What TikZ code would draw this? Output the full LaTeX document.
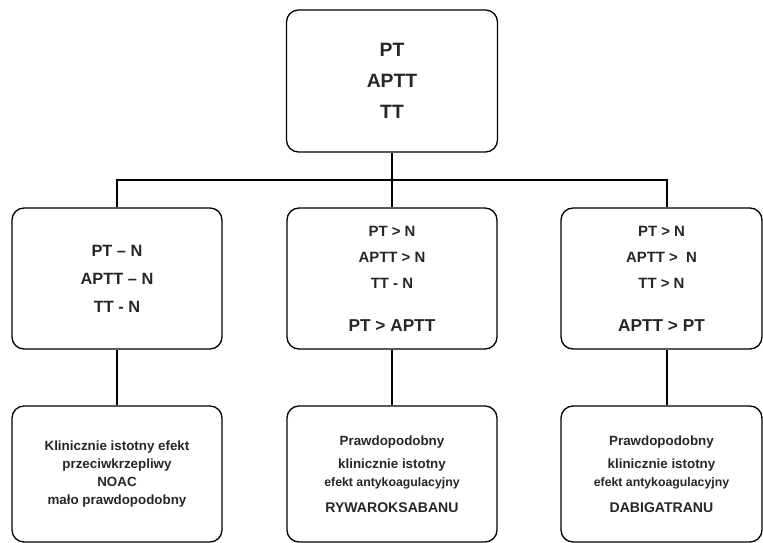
\documentclass[tikz,border=0pt]{standalone}
\usepackage{fontspec}
\setmainfont{Liberation Sans}
\usetikzlibrary{calc}

% kroje pisma dla poszczegolnych poziomow
\newcommand{\topfont}{\fontsize{11}{17.6}\selectfont\bfseries}
\newcommand{\midfont}{\fontsize{9.3}{15.9}\selectfont\bfseries}
\newcommand{\testfont}{\fontsize{8.5}{14.8}\selectfont\bfseries}
\newcommand{\botfont}{\fontsize{7.6}{10.2}\selectfont\bfseries}

\begin{document}
\begin{tikzpicture}[line width=0.75pt,
	box/.style={draw,rectangle,rounded corners=0.24cm,align=center,text=black!85}]

	\useasboundingbox (0,0) rectangle (15.26,10.86);

	% gorny blok
	\node[box, minimum width=4.22cm, minimum height=2.84cm, font=\topfont] (top) at (7.84,9.24) {PT\\APTT\\TT};

	% srodkowe bloki
	\node[box, minimum width=4.2cm, minimum height=2.82cm, font=\midfont] (lmid) at (2.34,5.29) {PT -- N\\APTT -- N\\TT - N};
	\node[box, minimum width=4.2cm, minimum height=2.82cm, font=\testfont] (mmid) at (7.84,5.29) {PT > N\\APTT > N\\TT - N\\[9.7pt]{\fontsize{9.8}{12}\selectfont PT > APTT}};
	\node[box, minimum width=4.02cm, minimum height=2.82cm, font=\testfont] (rmid) at (13.23,5.29) {PT > N\\APTT > \ N\\TT > N\\[9.7pt]{\fontsize{9.8}{12}\selectfont APTT > PT}};

	% dolne bloki
	\node[box, minimum width=4.2cm, minimum height=2.72cm, font=\botfont] (lbot) at (2.34,1.38) {Klinicznie istotny efekt\\przeciwkrzepliwy\\NOAC\\mało prawdopodobny};
	\node[box, minimum width=4.2cm, minimum height=2.72cm, font=\botfont] (mbot) at (7.84,1.38) {Prawdopodobny\\[3pt]klinicznie istotny\\{\fontsize{7}{10}\selectfont efekt antykoagulacyjny}\\[4.5pt]{\fontsize{8}{10}\selectfont RYWAROKSABANU}};
	\node[box, minimum width=4.02cm, minimum height=2.72cm, font=\botfont] (rbot) at (13.23,1.38) {Prawdopodobny\\[3pt]klinicznie istotny\\{\fontsize{7}{10}\selectfont efekt antykoagulacyjny}\\[4.5pt]{\fontsize{8}{10}\selectfont DABIGATRANU}};

	% rozgalezienie
	\coordinate (rozgal) at ($(top.south)!0.5!(mmid.north)$);
	\draw (top.south) -- (mmid.north);
	\draw (lmid.north) |- (rozgal) -| ([xshift=0.11cm]rmid.north);

	% polaczenia w dol
	\draw (lmid.south) -- (lbot.north);
	\draw (mmid.south) -- (mbot.north);
	\draw ([xshift=0.11cm]rmid.south) -- ([xshift=0.11cm]rbot.north);

\end{tikzpicture}
\end{document}
